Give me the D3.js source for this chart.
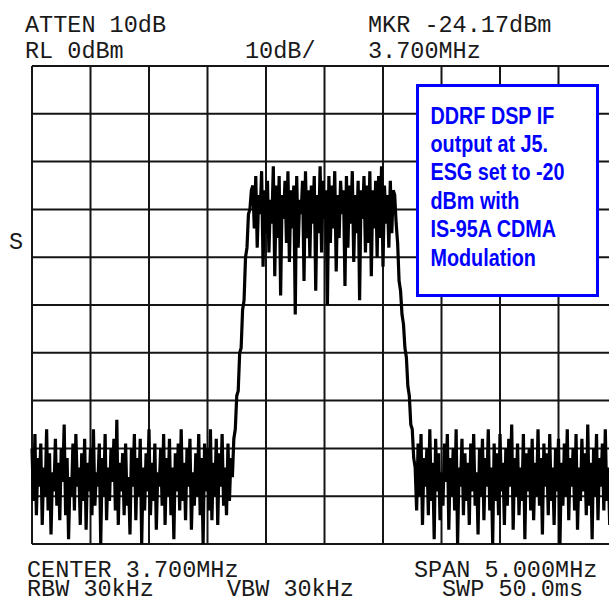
<!DOCTYPE html>
<html>
<head>
<meta charset="utf-8">
<script src="https://cdn.jsdelivr.net/npm/d3@7"></script>
<style>
  html, body { margin: 0; padding: 0; background: #fff; }
  svg { display: block; }
  .hdr { font-family: "Liberation Mono", "DejaVu Sans Mono", monospace; font-size: 23.5px; fill: #1a1a1a; }
  .note { font-family: "Liberation Sans", Arial, sans-serif; font-weight: bold; font-size: 23px; fill: #0000ff; }
</style>
</head>
<body>
<svg id="chart" width="609" height="602"></svg>
<script>
// ---- Instrument settings (text annotations) ----
const headerTopLeft = ["ATTEN 10dB", "RL 0dBm"];
const scaleLabel = "10dB/";
const headerTopRight = ["MKR -24.17dBm", "3.700MHz"];
const footerLeft = ["CENTER 3.700MHz", "RBW 30kHz"];
const footerMid = "VBW 30kHz";
const footerRight = ["SPAN 5.000MHz", "SWP 50.0ms"];
const noteLines = ["DDRF DSP IF", "output at J5.", "ESG set to -20", "dBm with", "IS-95A CDMA", "Modulation"];

// ---- Axes definition ----
const centerMHz = 3.7, spanMHz = 5.0;
const refLevel = 0, dbPerDiv = 10, divisions = 10;
const xGridMHz = d3.range(0, 11).map(k => centerMHz - spanMHz / 2 + k * spanMHz / 10);
const yGridDb = d3.range(0, 11).map(k => refLevel - k * dbPerDiv);

// ---- Trace (401 points, dBm) ----
const noiseLeft = [
-80,-91,-77,-94,-82,-88,-79,-96,-84,-90,-76,-93,-81,-98,-85,-89,-78,-92,-83,-95,
-80,-87,-75,-94,-82,-99,-86,-90,-79,-93,-77,-88,-84,-96,-81,-91,-78,-97,-83,-89,
-80,-94,-76,-92,-85,-88,-79,-100,-82,-90,-77,-95,-84,-91,-80,-87,-78,-93,-74,-96,
-83,-89,-81,-94,-79,-92,-86,-98,-80,-88,-77,-95,-82,-90,-78,-100,-84,-93,-81,-89,
-76,-94,-83,-91,-79,-97,-85,-88,-80,-92,-77,-96,-82,-90,-78,-94,-84,-99,-81,-89,
-79,-93,-76,-91,-83,-95,-80,-88,-78,-97,-85,-92,-81,-90,-77,-94,-82,-100,-79,-89,
-80,-93,-76,-95,-83,-90,-78,-96,-81,-88,-77,-92,-84,-94,-79,-91,-82
];
const skirtLeft = [-86,-78,-76,-69,-68,-60,-59,-51,-49,-40,-38,-31,-30,-26];
const plateau = [
-25,-34,-23,-38,-27,-31,-22,-42,-26,-35,-24,-39,-28,-33,-21,-44,-25,-36,-23,-48,
-27,-32,-24,-37,-22,-41,-26,-34,-25,-52,-23,-38,-28,-31,-24,-45,-22,-36,-26,-40,
-25,-33,-23,-47,-27,-35,-21,-39,-24,-32,-26,-50,-23,-37,-25,-34,-22,-43,-27,-36,
-24,-31,-26,-46,-23,-38,-25,-33,-22,-41,-27,-35,-24,-49,-26,-32,-23,-39,-25,-37,
-22,-44,-26,-34,-24,-40,-23,-36,-21,-42,-25,-33,-27,-38,-24,-35,-26
];
const skirtRight = [-27,-33,-37,-45,-47,-52,-54,-59,-61,-67,-69,-75,-76,-82];
const noiseRight = [
-84,-93,-79,-90,-77,-96,-82,-88,-80,-94,-76,-91,-83,-99,-78,-89,-81,-95,-85,-92,
-79,-87,-77,-97,-82,-90,-80,-93,-76,-100,-84,-88,-78,-94,-81,-91,-83,-96,-79,-89,
-77,-92,-85,-98,-80,-90,-78,-95,-82,-88,-76,-93,-84,-100,-79,-91,-81,-94,-77,-89,
-83,-96,-80,-92,-78,-88,-75,-97,-82,-90,-79,-94,-84,-91,-77,-99,-81,-89,-80,-93,
-78,-95,-83,-90,-76,-92,-82,-98,-79,-88,-81,-94,-77,-91,-84,-96,-80,-89,-78,-100,
-83,-92,-79,-90,-76,-95,-82,-88,-80,-93,-77,-97,-84,-91,-78,-89,-81,-94,-75,-92,
-83,-99,-80,-90,-77,-95,-82,-88,-79,-93,-76,-91,-84,-96,-80,-89,-78,-94,-81
];
const trace = [].concat(noiseLeft, skirtLeft, plateau, skirtRight, noiseRight);

// ---- Drawing ----
const svg = d3.select("#chart");
const pLeft = 32, pRight = 617, pTop = 66, pBottom = 544;

const x = d3.scaleLinear().domain([centerMHz - spanMHz / 2, centerMHz + spanMHz / 2]).range([pLeft, pRight]);
const y = d3.scaleLinear().domain([refLevel - dbPerDiv * divisions, refLevel]).range([pBottom, pTop]);
const xi = d3.scaleLinear().domain([0, trace.length - 1]).range(x.domain());

svg.append("rect").attr("width", 609).attr("height", 602).attr("fill", "#fff");

// grid
const grid = svg.append("g").attr("stroke", "#151515").attr("stroke-width", 2);
grid.selectAll("line.v").data(xGridMHz).join("line").attr("class", "v")
  .attr("x1", d => x(d)).attr("x2", d => x(d)).attr("y1", pTop).attr("y2", pBottom);
grid.selectAll("line.h").data(yGridDb).join("line").attr("class", "h")
  .attr("x1", pLeft).attr("x2", pRight).attr("y1", d => y(d)).attr("y2", d => y(d));

// trace
const line = d3.line()
  .x((d, i) => x(xi(i)))
  .y(d => y(Math.max(d, y.domain()[0])));
svg.append("path").datum(trace)
  .attr("d", line).attr("fill", "none").attr("stroke", "#000")
  .attr("stroke-width", 3.2).attr("stroke-linejoin", "bevel");

// header / footer text
const txt = (s, tx, ty) => svg.append("text").attr("class", "hdr").attr("x", tx).attr("y", ty).text(s);
txt(headerTopLeft[0], 25, 32);
txt(headerTopLeft[1], 25, 58);
txt(scaleLabel, 245, 58);
txt(headerTopRight[0], 368, 32);
txt(headerTopRight[1], 368, 58);
txt(footerLeft[0], 27, 577);
txt(footerLeft[1], 27, 596);
txt(footerMid, 227, 596);
txt(footerRight[0], 414, 577);
txt(footerRight[1], 442, 596);
txt("S", 9, 249);

// note box
svg.append("rect").attr("x", 417.5).attr("y", 85.5).attr("width", 180).attr("height", 210)
  .attr("fill", "#fff").attr("stroke", "#0000ff").attr("stroke-width", 3);
const baselines = [123.5, 151.5, 180, 208.5, 237, 266];
svg.selectAll("text.note").data(noteLines).join("text").attr("class", "note")
  .attr("transform", (d, i) => `translate(430.5,${baselines[i]}) scale(0.86,1)`)
  .text(d => d);
</script>
</body>
</html>
